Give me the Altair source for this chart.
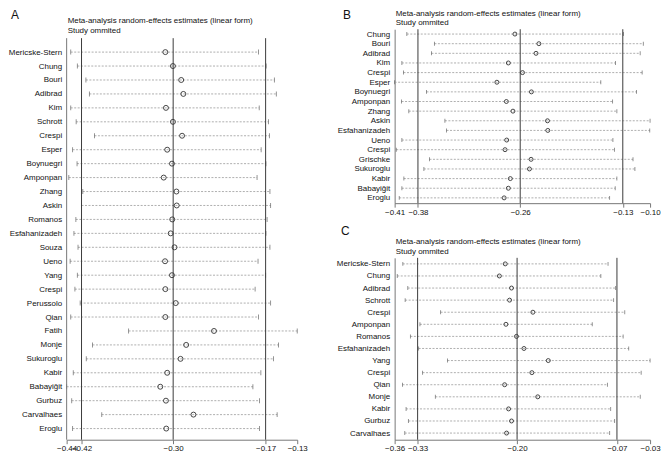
import altair as alt
import pandas as pd

FONT = "Liberation Sans, Arial, sans-serif"
TITLE = ["Meta-analysis random-effects estimates (linear form)"]
SUBTITLE = ["Study ommited"]

# ---------------- Panel A ----------------
a_names = ["Mericske-Stern", "Chung", "Bouri", "Adibrad", "Kim", "Schrott", "Crespi", "Esper",
           "Boynuegri", "Amponpan", "Zhang", "Askin", "Romanos", "Esfahanizadeh", "Souza", "Ueno",
           "Yang", "Crespi", "Perussolo", "Qian", "Fatih", "Monje", "Sukuroglu", "Kabir",
           "Babayiğit", "Gurbuz", "Carvalhaes", "Eroglu"]
a_lower = [-0.4345, -0.4256, -0.4141, -0.4094, -0.4345, -0.4272, -0.4026, -0.4320,
           -0.4260, -0.4371, -0.4183, -0.4200, -0.4276, -0.4302, -0.4247, -0.4353,
           -0.4256, -0.4289, -0.4218, -0.4345, -0.3567, -0.4052, -0.4136, -0.4311,
           -0.4400, -0.4332, -0.3928, -0.4320]
a_est = [-0.3073, -0.2971, -0.2860, -0.2831, -0.3065, -0.2971, -0.2848, -0.3048,
         -0.2984, -0.3095, -0.2924, -0.2920, -0.2980, -0.3001, -0.2950, -0.3077,
         -0.2984, -0.3073, -0.2933, -0.3073, -0.2419, -0.2793, -0.2869, -0.3048,
         -0.3141, -0.3065, -0.2695, -0.3061]
a_upper = [-0.1820, -0.1718, -0.1607, -0.1581, -0.1811, -0.1687, -0.1674, -0.1785,
           -0.1721, -0.1840, -0.1667, -0.1658, -0.1705, -0.1721, -0.1667, -0.1827,
           -0.1725, -0.1866, -0.1658, -0.1820, -0.1300, -0.1552, -0.1619, -0.1789,
           -0.1896, -0.1807, -0.1570, -0.1807]
a_overall = [-0.4200, -0.2968, -0.1725]
a_range = [-0.44, -0.13]

# ---------------- Panel B ----------------
b_names = ["Chung", "Bouri", "Adibrad", "Kim", "Crespi", "Esper", "Boynuegri", "Amponpan",
           "Zhang", "Askin", "Esfahanizadeh", "Ueno", "Crespi", "Grischke", "Sukuroglu",
           "Kabir", "Babayiğit", "Eroglu"]
b_lower = [-0.3952, -0.3617, -0.3653, -0.4012, -0.3992, -0.4100, -0.3713, -0.4016,
           -0.3928, -0.3490, -0.3470, -0.4012, -0.4080, -0.3677, -0.3745,
           -0.3988, -0.4012, -0.4044]
b_est = [-0.2640, -0.2349, -0.2384, -0.2720, -0.2548, -0.2859, -0.2440, -0.2744,
         -0.2664, -0.2245, -0.2241, -0.2740, -0.2760, -0.2444, -0.2464,
         -0.2696, -0.2720, -0.2771]
b_upper = [-0.1324, -0.1082, -0.1120, -0.1419, -0.1096, -0.1598, -0.1164, -0.1455,
           -0.1403, -0.1000, -0.1004, -0.1451, -0.1431, -0.1207, -0.1184,
           -0.1403, -0.1423, -0.1491]
b_overall = [-0.3817, -0.2576, -0.1331]
b_range = [-0.41, -0.10]

# ---------------- Panel C ----------------
c_names = ["Mericske-Stern", "Chung", "Adibrad", "Schrott", "Crespi", "Amponpan", "Romanos",
           "Esfahanizadeh", "Yang", "Crespi", "Qian", "Monje", "Kabir", "Gurbuz", "Carvalhaes"]
c_lower = [-0.3494, -0.3566, -0.3430, -0.3464, -0.3006, -0.3273, -0.3396,
           -0.3290, -0.2917, -0.3239, -0.3498, -0.3074, -0.3452, -0.3422, -0.3469]
c_est = [-0.2171, -0.2247, -0.2090, -0.2115, -0.1814, -0.2162, -0.2026,
         -0.1929, -0.1615, -0.1827, -0.2179, -0.1751, -0.2128, -0.2090, -0.2154]
c_upper = [-0.0843, -0.0936, -0.0745, -0.0771, -0.0627, -0.1047, -0.0648,
           -0.0576, -0.0300, -0.0415, -0.0851, -0.0427, -0.0809, -0.0758, -0.0822]
c_overall = [-0.3303, -0.2018, -0.0728]
c_range = [-0.36, -0.03]


def panel(names, lo, est, hi, overall, xr, width, height, ydom, axis_top,
          letter, letter_x, letter_y, title_y, sub_y, psize, cap, draw_axis_rule):
    n = len(names)
    df = pd.DataFrame({"row": list(range(1, n + 1)), "lo": lo, "est": est, "hi": hi})
    xscale = alt.Scale(domain=xr, nice=False, zero=False)
    yscale = alt.Scale(domain=ydom, reverse=True, nice=False, zero=False)
    labexpr = "[" + ",".join("'" + s + "'" for s in names) + "][datum.value - 1]"
    xaxis = alt.Axis(values=[xr[0]] + overall + [xr[1]], format=".2f", title=None, grid=False,
                     labelOverlap=False, labelFlush=False, labelBound=False, tickSize=4,
                     labelPadding=1, domain=True)
    yaxis = alt.Axis(values=list(range(1, n + 1)), labelExpr=labexpr, title=None, grid=False,
                     ticks=False, domain=not draw_axis_rule, labelPadding=5)

    def X(f):
        return alt.X(f, type="quantitative", scale=xscale, axis=xaxis)

    def Y(f):
        return alt.Y(f, type="quantitative", scale=yscale, axis=yaxis)

    base = alt.Chart(df)
    ci = base.mark_rule(strokeDash=[2, 1.5], color="#9a9a9a", strokeWidth=0.8).encode(
        x=X("lo"), x2="hi", y=Y("row"))
    cap_lo = base.mark_tick(orient="vertical", size=cap, thickness=0.9, color="#555").encode(
        x=X("lo"), y=Y("row"))
    cap_hi = base.mark_tick(orient="vertical", size=cap, thickness=0.9, color="#555").encode(
        x=X("hi"), y=Y("row"))
    pts = base.mark_point(shape="circle", filled=False, size=psize, color="#333",
                          strokeWidth=0.9, opacity=1).encode(x=X("est"), y=Y("row"))
    ov = pd.DataFrame({"v": overall, "y0": [axis_top] * 3, "y1": [ydom[1]] * 3})
    ovl = alt.Chart(ov).mark_rule(color="#3a3a3a", strokeWidth=1).encode(
        x=X("v"), y=Y("y0"), y2="y1")
    layers = [ci, cap_lo, cap_hi, ovl, pts]
    if draw_axis_rule:
        ax = pd.DataFrame({"v": [xr[0]], "y0": [axis_top], "y1": [ydom[1]]})
        layers.append(alt.Chart(ax).mark_rule(color="#777", strokeWidth=1).encode(
            x=X("v"), y=Y("y0"), y2="y1"))
    t1 = alt.Chart(pd.DataFrame({"t": TITLE})).mark_text(
        align="left", baseline="middle", font=FONT, fontSize=8, color="#111").encode(
        x=alt.value(1), y=alt.value(title_y), text="t:N")
    t2 = alt.Chart(pd.DataFrame({"t": SUBTITLE})).mark_text(
        align="left", baseline="middle", font=FONT, fontSize=8, color="#111").encode(
        x=alt.value(1), y=alt.value(sub_y), text="t:N")
    lt = alt.Chart(pd.DataFrame({"t": [letter]})).mark_text(
        align="left", baseline="middle", font=FONT,
        fontSize=12, color="#111").encode(x=alt.value(letter_x), y=alt.value(letter_y), text="t:N")
    layers += [t1, t2, lt]
    return alt.layer(*layers).properties(width=width, height=height)


A = panel(a_names, a_lower, a_est, a_upper, a_overall, a_range, 232, 413, [-0.64, 28.8], 0,
          "A", -56, -14, -8, 2, 25, 5, True)
B = panel(b_names, b_lower, b_est, b_upper, b_overall, b_range, 257, 175, [0.5, 18.55], 0.5,
          "B", -52, -14, -15, -6, 16, 4, False)
C = panel(c_names, c_lower, c_est, c_upper, c_overall, c_range, 257, 183, [0.5, 15.55], 0.5,
          "C", -54, -27, -16, -6, 16, 4, False)

right = alt.vconcat(B, C, spacing=55, bounds="flush")
chart = alt.hconcat(A, right, spacing=98, bounds="flush").properties(
    padding={"left": 0, "top": 0, "right": 0, "bottom": 0}
).configure_view(stroke=None).configure_axis(
    labelFont=FONT, labelFontSize=8, labelColor="#111", domainColor="#777",
    tickColor="#777", domainWidth=1, tickWidth=1
)

chart.save("out.html", embed_options={"renderer": "svg", "actions": False})
